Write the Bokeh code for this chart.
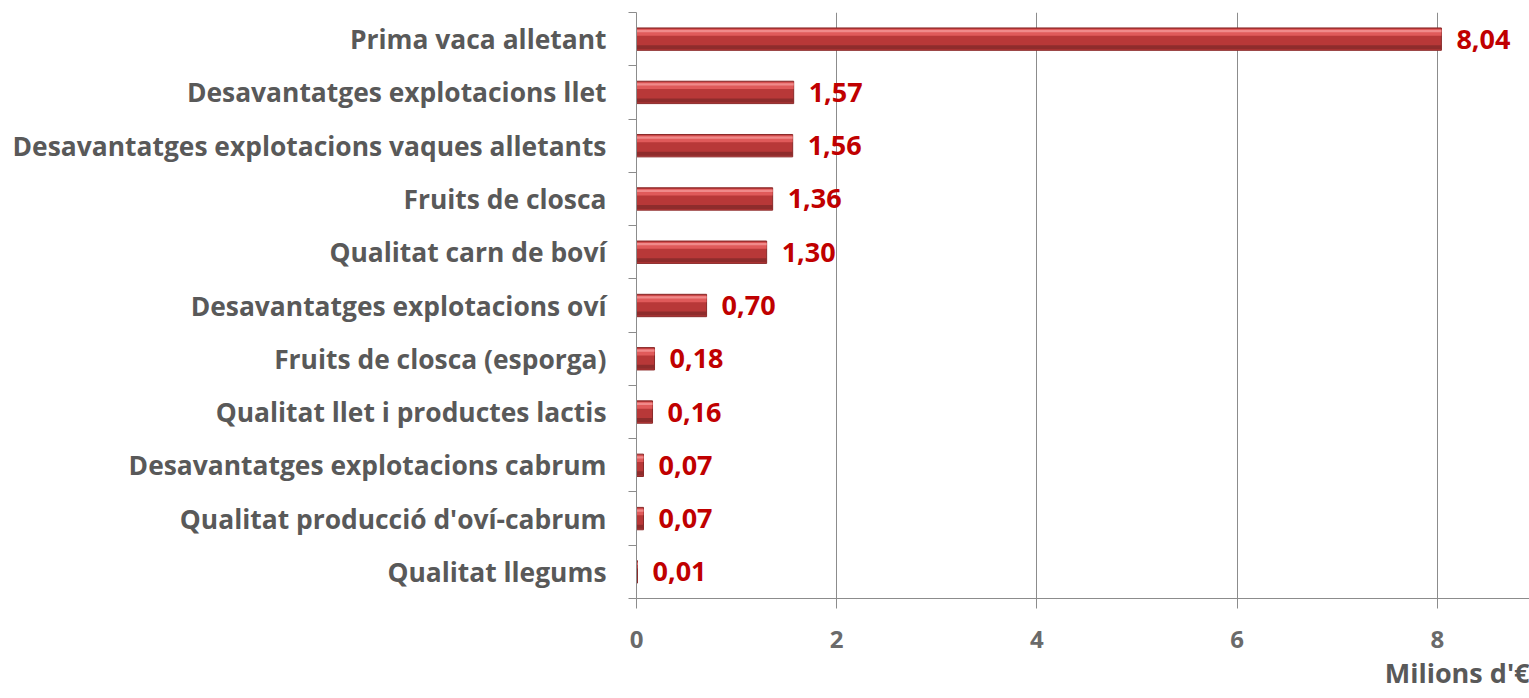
from bokeh.plotting import figure
from bokeh.models import ColumnDataSource, FixedTicker, Title, Range1d, LinearAxis
from bokeh.transform import dodge
from bokeh.core.properties import value
from bokeh.embed import file_html
from bokeh.resources import INLINE

categories = [
    "Prima vaca alletant",
    "Desavantatges explotacions llet",
    "Desavantatges explotacions vaques alletants",
    "Fruits de closca",
    "Qualitat carn de boví",
    "Desavantatges explotacions oví",
    "Fruits de closca (esporga)",
    "Qualitat llet i productes lactis",
    "Desavantatges explotacions cabrum",
    "Qualitat producció d'oví-cabrum",
    "Qualitat llegums",
]
values = [8.04, 1.57, 1.56, 1.36, 1.30, 0.70, 0.18, 0.16, 0.07, 0.07, 0.01]
x_ticks = [0, 2, 4, 6, 8]
x_title = "Milions d'€"

n = len(categories)
ypos = [n - 1 - i for i in range(n)]
labels = [f"{v:.2f}".replace(".", ",") for v in values]
src = ColumnDataSource(dict(y=ypos, cat=categories, val=values, lab=labels))

FONT = "Open Sans"
GRID = "#8c8c8c"
p = figure(
    width=1529, height=698,
    y_range=Range1d(-0.5, n - 0.5),
    x_range=Range1d(0, 8.92),
    y_axis_location=None,
    output_backend="svg", toolbar_location=None,
    min_border_left=636, min_border_right=0, min_border_top=12, min_border_bottom=100,
)
p.outline_line_color = None
p.background_fill_color = None
p.border_fill_color = "white"

# band-boundary tick marks (inner axis)
band_axis = LinearAxis(ticker=FixedTicker(ticks=[k - 0.5 for k in range(n + 1)]),
                       major_label_overrides={k - 0.5: "" for k in range(n + 1)},
                       major_label_text_font_size="1px", major_label_standoff=0,
                       major_tick_out=8, major_tick_in=0, minor_tick_line_color=None,
                       major_tick_line_color=GRID, axis_line_color=GRID)
p.add_layout(band_axis, "left")
# category labels (outer axis)
cat_axis = LinearAxis(ticker=FixedTicker(ticks=ypos),
                      major_label_overrides={y: c for y, c in zip(ypos, categories)},
                      axis_line_color=None, major_tick_line_color=None,
                      minor_tick_line_color=None, major_label_standoff=16,
                      major_label_text_font=FONT, major_label_text_font_style="bold",
                      major_label_text_font_size="26.4px",
                      major_label_text_color="#595959")
p.add_layout(cat_axis, "left")

# bars with 3D-like shading
BH = 0.42
p.hbar(y="y", right="val", left=0, height=BH, source=src,
       fill_color="#b83838", line_color="#8a2a2a", line_width=1)
p.hbar(y=dodge("y", BH * 0.30), right="val", left=0, height=BH * 0.30,
       source=src, fill_color="#e05a5a", line_color=None)
p.hbar(y=dodge("y", BH * 0.36), right="val", left=0, height=BH * 0.10,
       source=src, fill_color="#f08a8a", line_color=None)
p.hbar(y=dodge("y", -BH * 0.36), right="val", left=0, height=BH * 0.18,
       source=src, fill_color="#8e2c2c", line_color=None)

p.text(x="val", y="y", text="lab", source=src, x_offset=15,
       text_align="left", text_baseline="middle",
       text_font=value(FONT), text_font_style="bold", text_font_size="27px",
       text_color="#c00000")

# x axis
p.xaxis.ticker = FixedTicker(ticks=x_ticks)
p.xaxis.axis_line_color = GRID
p.xaxis.major_tick_line_color = GRID
p.xaxis.major_tick_out = 10
p.xaxis.major_tick_in = 0
p.xaxis.minor_tick_line_color = None
p.xaxis.major_label_standoff = 22
p.xaxis.major_label_text_font = FONT
p.xaxis.major_label_text_font_style = "bold"
p.xaxis.major_label_text_font_size = "24px"
p.xaxis.major_label_text_color = "#6a6a6a"

p.xgrid.ticker = FixedTicker(ticks=x_ticks)
p.xgrid.grid_line_color = GRID
p.ygrid.grid_line_color = None

p.add_layout(Title(text=x_title, align="right", text_font=FONT, text_font_style="bold",
                   text_font_size="27px", text_color="#595959", standoff=2), "below")

open("out.html", "w").write(file_html(p, INLINE))
